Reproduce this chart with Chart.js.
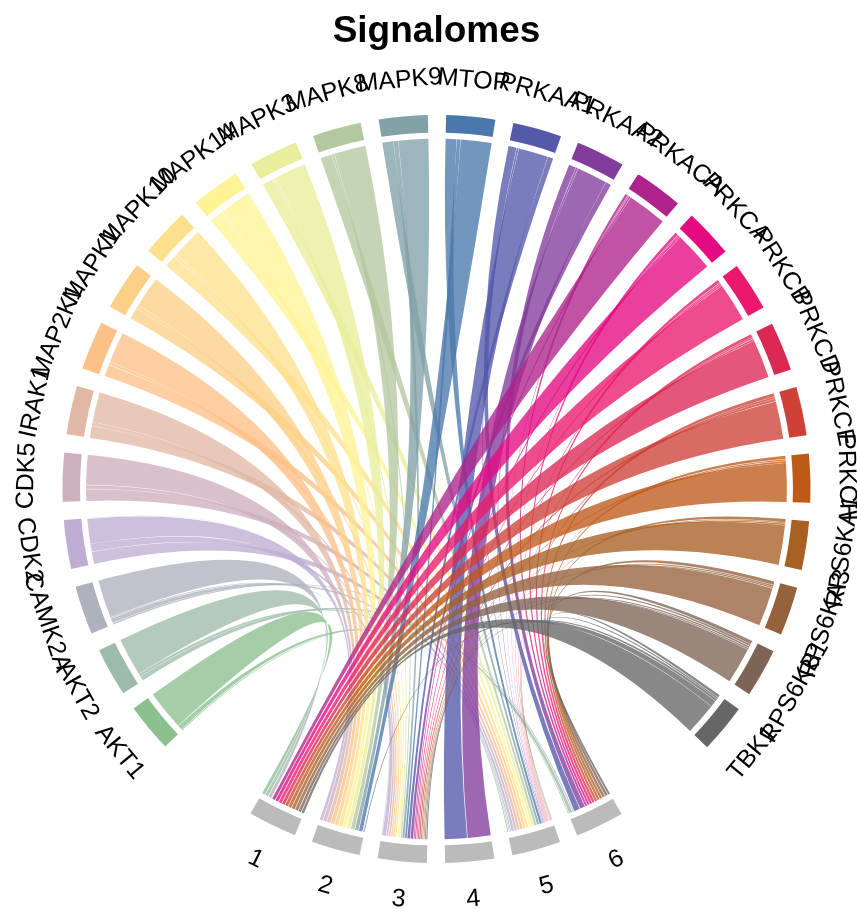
<!DOCTYPE html>
<html>
<head>
<meta charset="utf-8">
<style>html,body{margin:0;padding:0;background:#fff}canvas{display:block}</style>
<script src="https://cdn.jsdelivr.net/npm/chart.js@4"></script>
</head>
<body>
<canvas id="c" width="857" height="909"></canvas>
<script>
const chartTitle = 'Signalomes';
const kinases = ['AKT1','AKT2','CAMK2A','CDK2','CDK5','IRAK1','MAP2K1','MAPK1','MAPK10','MAPK14','MAPK3','MAPK8','MAPK9','MTOR','PRKAA1','PRKAA2','PRKACA','PRKCA','PRKCB','PRKCD','PRKCE','PRKCH','RPS6KA1','RPS6KA3','RPS6KB1','TBK1'];
const signalomes = ['1','2','3','4','5','6'];
const kinaseColors = ['#8CC08F','#9DBBAA','#AEB2BE','#BEAED4','#CDB0BE','#E0B8A5','#FDC086','#FDD088','#FEE08E','#FFF396','#E8EE9B','#B4C8A0','#82A2A8','#4B78AC','#5559AA','#823C9B','#AF238C','#E40A82','#EB196E','#DC2855','#CD4137','#BE5A19','#A85F23','#96623C','#7D6455','#666666'];
const signalomeColor = '#BBBBBB';

/* share of each kinase going to signalome 1..6 */
const rowAKT1    = [88,0,0,0,10,2];
const rowAKT2    = [84,0,0,0,6,10];
const rowCAMK2A  = [85,0,2,0,10,3];
const rowCDK2    = [1,55,17,0,27,0];
const rowCDK5    = [0,66,8,0,26,0];
const rowIRAK1   = [0,66,8,0,26,0];
const rowMAP2K1  = [0,68,6,0,26,0];
const rowMAPK1   = [0,68,7,0,25,0];
const rowMAPK10  = [0,68,6,0,26,0];
const rowMAPK14  = [0,70,6,0,24,0];
const rowMAPK3   = [0,70,6,0,24,0];
const rowMAPK8   = [0,70,5,0,25,0];
const rowMAPK9   = [0,66,10,0,24,0];
const rowMTOR    = [0,68,8,0,24,0];
const rowPRKAA1  = [0,0,12,66,4,18];
const rowPRKAA2  = [0,0,12,68,4,16];
const rowPRKACA  = [88,0,4,0,2,6];
const rowPRKCA   = [88,0,4,0,2,6];
const rowPRKCB   = [87,0,3,0,3,7];
const rowPRKCD   = [86,0,4,0,3,7];
const rowPRKCE   = [84,0,5,0,4,7];
const rowPRKCH   = [86,0,4,0,3,7];
const rowRPS6KA1 = [88,0,3,0,2,7];
const rowRPS6KA3 = [86,0,3,0,3,8];
const rowRPS6KB1 = [81,3,4,0,4,8];
const rowTBK1    = [72,14,5,0,3,6];
const flows = [rowAKT1,rowAKT2,rowCAMK2A,rowCDK2,rowCDK5,rowIRAK1,rowMAP2K1,rowMAPK1,rowMAPK10,rowMAPK14,rowMAPK3,rowMAPK8,rowMAPK9,rowMTOR,rowPRKAA1,rowPRKAA2,rowPRKACA,rowPRKCA,rowPRKCB,rowPRKCD,rowPRKCE,rowPRKCH,rowRPS6KA1,rowRPS6KA3,rowRPS6KB1,rowTBK1];

/* ring weights: each sector is normalised to 100, gaps are blank slices */
const SMALL_GAP = 37, BIG_GAP = 220, SECTOR = 100;
const ringLabels = [], ringData = [], ringColors = [], kIdx = [], sIdx = [];
function pushSlice(label, value, color){ ringLabels.push(label); ringData.push(value); ringColors.push(color); return ringData.length - 1; }
kinases.forEach((k,i)=>{
  kIdx.push(pushSlice(k, flows[i].reduce((a,b)=>a+b,0), kinaseColors[i]));
  if(i < kinases.length-1) pushSlice('', SMALL_GAP, 'rgba(0,0,0,0)');
});
pushSlice('', BIG_GAP, 'rgba(0,0,0,0)');
for(let j = signalomes.length-1; j >= 0; j--){
  sIdx[j] = pushSlice(signalomes[j], SECTOR, signalomeColor);
  if(j > 0) pushSlice('', SMALL_GAP, 'rgba(0,0,0,0)');
}
pushSlice('', BIG_GAP, 'rgba(0,0,0,0)');

function hexA(hex,a){const n=parseInt(hex.slice(1),16);return `rgba(${n>>16},${(n>>8)&255},${n&255},${a})`;}

const ribbonPlugin = {
  id:'ribbons',
  beforeDatasetsDraw(chart){
    const arcs = chart.getDatasetMeta(0).data, ctx = chart.ctx;
    const first = arcs[kIdx[0]].getProps(['x','y','innerRadius']);
    const cx = first.x, cy = first.y, R = first.innerRadius - 6, gapK = 0.001, gapS = 0.0018;
    const colSums = signalomes.map((_,j)=>flows.reduce((s,r)=>s+r[j],0));
    const colCount = signalomes.map((_,j)=>flows.filter(r=>r[j]>0).length);
    const sPos = signalomes.map((_,j)=>arcs[sIdx[j]].getProps(['startAngle']).startAngle);
    const sEnd = signalomes.map((_,j)=>arcs[sIdx[j]].getProps(['endAngle']).endAngle);
    /* signalome ends: clockwise from the last kinase back to the first */
    const tEnds = flows.map(()=>[]);
    signalomes.forEach((_,j)=>{
      const span = sEnd[j]-sPos[j]-gapS*(colCount[j]-1);
      let a = sPos[j];
      for(let i=flows.length-1;i>=0;i--){
        if(flows[i][j]<=0) continue;
        const w = span*flows[i][j]/colSums[j];
        tEnds[i][j]=[a,a+w]; a+=w+gapS;
      }
    });
    ctx.save();
    flows.forEach((row,i)=>{
      const p = arcs[kIdx[i]].getProps(['startAngle','endAngle']);
      const n = row.filter(v=>v>0).length, sum = row.reduce((a,b)=>a+b,0);
      const span = p.endAngle-p.startAngle-gapK*(n-1);
      let a = p.startAngle;
      for(let j=signalomes.length-1;j>=0;j--){
        if(row[j]<=0) continue;
        const w = span*row[j]/sum, t = tEnds[i][j];
        ctx.beginPath();
        ctx.moveTo(cx+R*Math.cos(a),cy+R*Math.sin(a));
        ctx.arc(cx,cy,R,a,a+w);
        ctx.quadraticCurveTo(cx,cy,cx+R*Math.cos(t[0]),cy+R*Math.sin(t[0]));
        ctx.arc(cx,cy,R,t[0],t[1]);
        ctx.quadraticCurveTo(cx,cy,cx+R*Math.cos(a),cy+R*Math.sin(a));
        ctx.closePath();
        ctx.fillStyle = hexA(kinaseColors[i],0.78);
        ctx.fill();
        a += w+gapK;
      }
    });
    ctx.restore();
  },
  afterDatasetsDraw(chart){
    const arcs = chart.getDatasetMeta(0).data, ctx = chart.ctx;
    ctx.save();
    ctx.fillStyle='#000';
    ctx.font='25px "Liberation Sans", Arial, sans-serif';
    ctx.textAlign='center';
    ctx.textBaseline='middle';
    const draw=(text,el)=>{
      const p = el.getProps(['x','y','startAngle','endAngle','outerRadius']);
      const mid=(p.startAngle+p.endAngle)/2, r=p.outerRadius+37;
      const theta = mid+Math.PI/2;
      ctx.save();
      ctx.translate(p.x+r*Math.cos(mid),p.y+r*Math.sin(mid));
      ctx.rotate(Math.sin(mid)<=0.02 ? theta : theta+Math.PI);
      ctx.fillText(text,0,1);
      ctx.restore();
    };
    kinases.forEach((k,i)=>draw(k,arcs[kIdx[i]]));
    signalomes.forEach((s,j)=>draw(s,arcs[sIdx[j]]));
    ctx.restore();
  }
};

new Chart(document.getElementById('c'),{
  type:'doughnut',
  data:{labels:ringLabels,datasets:[{data:ringData,backgroundColor:ringColors,borderWidth:0,hoverOffset:0}]},
  options:{
    responsive:false,
    animation:false,
    rotation:226.5,
    cutout:'95.3%',
    layout:{padding:{left:62.5,right:46.5,top:0,bottom:46}},
    plugins:{
      legend:{display:false},
      tooltip:{enabled:false},
      title:{display:true,text:chartTitle,color:'#000',fullSize:false,
        font:{family:'"Liberation Sans", Arial, sans-serif',size:37,weight:'bold',lineHeight:1},
        padding:{top:13,bottom:65}}
    }
  },
  plugins:[ribbonPlugin]
});
</script>
</body>
</html>
